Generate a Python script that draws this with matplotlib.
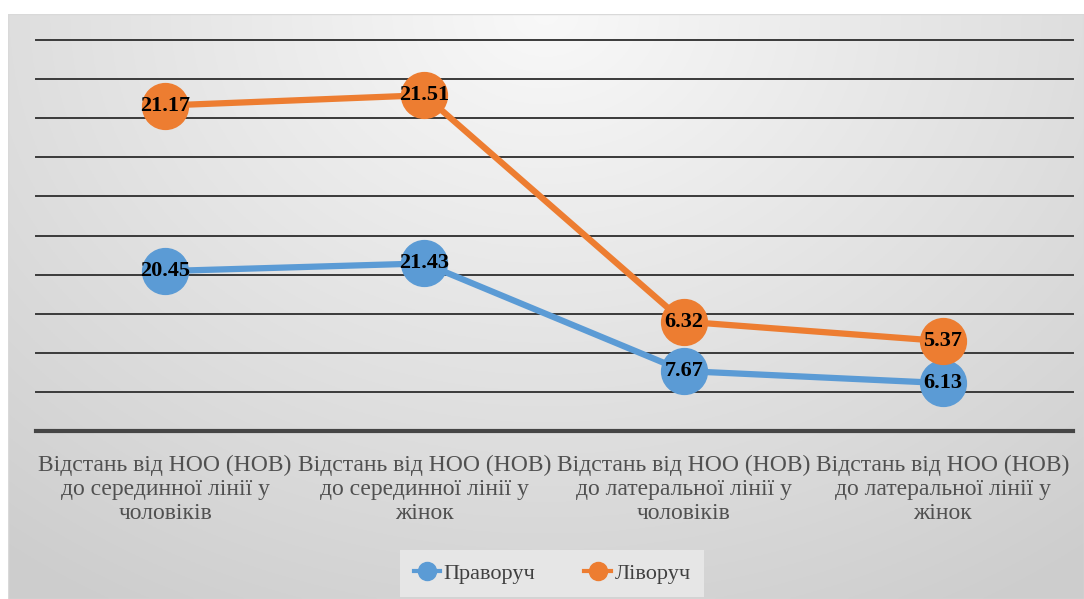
import numpy as np
import matplotlib.pyplot as plt
from matplotlib.lines import Line2D

categories = [
    "Відстань від НОО (НОВ)\nдо серединної лінії у\nчоловіків",
    "Відстань від НОО (НОВ)\nдо серединної лінії у\nжінок",
    "Відстань від НОО (НОВ)\nдо латеральної лінії у\nчоловіків",
    "Відстань від НОО (НОВ)\nдо латеральної лінії у\nжінок",
]
right_hand = [20.45, 21.43, 7.67, 6.13]
left_hand = [21.17, 21.51, 6.32, 5.37]
series_names = ["Праворуч", "Ліворуч"]

plt.rcParams['font.family'] = ['Liberation Serif', 'DejaVu Serif']

fig = plt.figure(figsize=(10.84, 5.99), dpi=100)
fig.patch.set_facecolor('white')

# gradient backdrop of the chart area
bg = fig.add_axes([8 / 1084, 0, 1 - 8 / 1084, 585 / 599])
bg.set_axis_off()
yy, xx = np.mgrid[0:1:300j, -1:1:600j]
r = np.sqrt((xx * 0.8) ** 2 + (yy * 1.1) ** 2)
shade = 0.975 - 0.17 * np.clip(r, 0, 1.3) / 1.3
bg.imshow(np.dstack([shade] * 3), aspect='auto', extent=[0, 1, 0, 1], origin='upper')
bg.add_patch(plt.Rectangle((0, 0), 1, 1, fill=False, ec='#d9d9d9', lw=1, transform=bg.transAxes))

ax = fig.add_axes([35.5 / 1084, 168 / 599, 1037 / 1084, 391 / 599])
ax.patch.set_alpha(0)

x = np.arange(len(categories))
blue, orange = '#5b9bd5', '#ed7d31'

# stacked lines: second series sits on top of the first
lower = np.array(right_hand)
upper = lower + np.array(left_hand)

for y in np.arange(5, 51, 5):
    ax.axhline(y, color='#3a3a3a', lw=1.4, zorder=1, clip_on=False)
ax.axhline(0, color='#454545', lw=3, zorder=1, clip_on=False)

ax.plot(x, lower, color=blue, lw=4.5, marker='o', ms=33, mec=blue, zorder=3)
ax.plot(x, upper, color=orange, lw=4.5, marker='o', ms=33, mec=orange, zorder=3)

for xi, yi, v in zip(x, lower, right_hand):
    ax.text(xi, yi, f"{v:.2f}", ha='center', va='center', fontsize=16,
            fontweight='bold', color='black', zorder=5)
for xi, yi, v in zip(x, upper, left_hand):
    ax.text(xi, yi, f"{v:.2f}", ha='center', va='center', fontsize=16,
            fontweight='bold', color='black', zorder=5)

ax.set_xlim(-0.5, len(categories) - 0.5)
ax.set_ylim(0, 50)
ax.set_yticks([])
ax.set_xticks(x)
ax.set_xticklabels(categories, fontsize=17, color='#505050', linespacing=1.2,
                   family='Liberation Serif')
ax.tick_params(axis='x', length=0, pad=17)
for s in ax.spines.values():
    s.set_visible(False)

handles = [Line2D([], [], color=blue, lw=3, marker='o', ms=13),
           Line2D([], [], color=orange, lw=3, marker='o', ms=13)]
leg = fig.legend(handles, series_names, loc='lower center',
                 bbox_to_anchor=(552 / 1084, -0.015), ncol=2,
                 prop={'family': 'Liberation Serif', 'size': 16},
                 frameon=True, fancybox=False, edgecolor='none',
                 facecolor='#e6e6e6', framealpha=1, borderpad=0.6,
                 handlelength=1.2, columnspacing=2.2, handletextpad=0.15,
                 labelcolor='#404040')

fig.savefig('out.png', dpi=100)
